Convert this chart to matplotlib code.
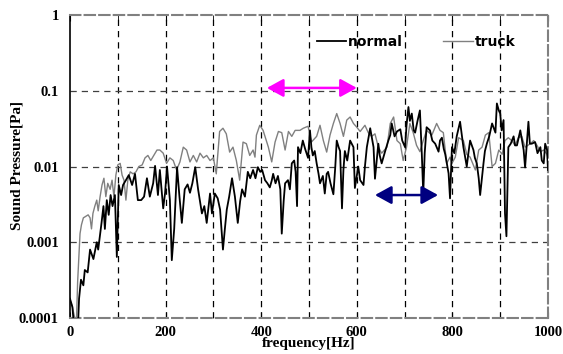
import matplotlib
matplotlib.use("Agg")
import matplotlib.pyplot as plt
from matplotlib.ticker import FixedLocator, NullLocator, FixedFormatter

# normal (black)
f_normal = [0, 5, 10, 16, 19, 23, 28, 31, 37, 42, 49, 56, 59, 66, 70, 73, 77, 81, 85, 89, 94,
            98, 102, 107, 111, 117, 123, 130, 136, 142, 149, 155, 161, 167, 174, 178, 184, 188,
            195, 199, 203, 209, 213, 218, 224, 229, 234, 240, 246, 251, 256, 262, 268, 276, 281,
            286, 293, 297, 303, 309, 314, 320, 324, 328, 333, 339, 345, 351, 356, 360, 366, 372,
            377, 383, 388, 393, 398, 402, 408, 413, 418, 422, 425, 430, 435, 440, 443, 447, 450,
            456, 460, 464, 469, 472, 475, 477, 482, 487, 492, 498, 502, 505, 508, 512, 516, 520,
            523, 529, 533, 537, 540, 545, 551, 555, 558, 562, 565, 569, 572, 575, 580, 586, 593,
            596, 603, 607, 614, 617, 621, 628, 635, 638, 645, 648, 652, 659, 666, 670, 673, 679,
            684, 691, 695, 701, 704, 708, 711, 715, 719, 722, 727, 732, 736, 739, 742, 746, 753,
            758, 764, 771, 774, 778, 782, 785, 792, 795, 799, 804, 809, 816, 823, 826, 830, 834,
            837, 844, 847, 851, 855, 858, 865, 868, 872, 877, 883, 890, 893, 897, 900, 903, 907,
            910, 913, 917, 922, 928, 931, 935, 942, 949, 952, 959, 962, 966, 973, 978, 984, 987,
            991, 994, 998, 1000]
p_normal = [0.00018, 0.00014, 0.00006, 0.00006, 0.00018, 0.00032, 0.00027, 0.00043, 0.0004,
            0.0008, 0.0006, 0.001, 0.0008, 0.0018, 0.003, 0.0015, 0.0036, 0.0023, 0.0042, 0.003,
            0.0042, 0.00064, 0.0057, 0.0042, 0.0057, 0.0066, 0.0077, 0.0057, 0.008, 0.0036,
            0.0036, 0.004, 0.007, 0.004, 0.006, 0.0102, 0.0042, 0.009, 0.0028, 0.0045, 0.01,
            0.0036, 0.00058, 0.0015, 0.0098, 0.004, 0.0018, 0.005, 0.0058, 0.0045, 0.006, 0.0098,
            0.005, 0.0024, 0.003, 0.0018, 0.0044, 0.0024, 0.0044, 0.0038, 0.0027, 0.0008, 0.0015,
            0.0027, 0.004, 0.007, 0.004, 0.0018, 0.0035, 0.005, 0.004, 0.0085, 0.007, 0.009,
            0.007, 0.0098, 0.0085, 0.009, 0.0066, 0.006, 0.0053, 0.0065, 0.008, 0.006, 0.0075,
            0.005, 0.0013, 0.0035, 0.006, 0.0066, 0.005, 0.011, 0.012, 0.0085, 0.003, 0.018,
            0.015, 0.022, 0.017, 0.013, 0.03, 0.018, 0.014, 0.016, 0.011, 0.008, 0.006, 0.0075,
            0.0044, 0.008, 0.0085, 0.006, 0.0043, 0.01, 0.022, 0.018, 0.016, 0.0028, 0.009,
            0.016, 0.012, 0.022, 0.018, 0.0052, 0.01, 0.0066, 0.0057, 0.01, 0.018, 0.032, 0.018,
            0.0069, 0.02, 0.014, 0.011, 0.0157, 0.022, 0.026, 0.037, 0.025, 0.029, 0.031, 0.022,
            0.018, 0.035, 0.061, 0.04, 0.05, 0.03, 0.028, 0.04, 0.055, 0.0145, 0.0044, 0.015,
            0.033, 0.03, 0.022, 0.02, 0.0157, 0.022, 0.024, 0.017, 0.0145, 0.0081, 0.0038, 0.018,
            0.015, 0.025, 0.039, 0.018, 0.014, 0.01, 0.016, 0.022, 0.0165, 0.013, 0.011, 0.007,
            0.0042, 0.011, 0.016, 0.02, 0.025, 0.037, 0.028, 0.068, 0.055, 0.05, 0.03, 0.041,
            0.0024, 0.0012, 0.018, 0.02, 0.025, 0.019, 0.019, 0.03, 0.0165, 0.0097, 0.039, 0.02,
            0.02, 0.021, 0.015, 0.018, 0.012, 0.011, 0.02, 0.0165, 0.009]

# truck (gray)
f_truck = [0, 2, 5, 10, 13, 16, 21, 24, 28, 33, 38, 42, 45, 48, 52, 56, 59, 63, 67, 71, 75, 79,
           84, 88, 92, 96, 100, 105, 109, 113, 117, 121, 126, 132, 138, 144, 151, 157, 163, 169,
           176, 182, 188, 195, 202, 209, 216, 223, 230, 237, 244, 251, 258, 265, 272, 279, 286,
           293, 300, 306, 313, 320, 327, 334, 341, 348, 355, 362, 369, 376, 383, 387, 390, 397,
           404, 415, 422, 429, 436, 443, 450, 457, 464, 471, 481, 488, 498, 505, 516, 523, 530,
           537, 544, 551, 558, 565, 572, 579, 586, 593, 600, 607, 617, 624, 631, 638, 645, 652,
           663, 670, 677, 684, 691, 697, 704, 711, 718, 725, 732, 739, 746, 757, 767, 774, 781,
           788, 795, 799, 806, 813, 823, 830, 837, 848, 855, 862, 869, 876, 883, 890, 897, 904,
           910, 917, 924, 931, 938, 945, 952, 963, 970, 977, 984, 991, 998, 1000]
p_truck = [0.00017, 0.00016, 0.00014, 0.0001, 0.00007, 0.0003, 0.0013, 0.0017, 0.0021, 0.0022,
           0.0023, 0.0021, 0.0015, 0.0024, 0.003, 0.0036, 0.0026, 0.004, 0.0057, 0.007, 0.004,
           0.006, 0.005, 0.0066, 0.004, 0.0077, 0.0105, 0.011, 0.0077, 0.0066, 0.0036, 0.0066,
           0.0085, 0.008, 0.0085, 0.01, 0.0105, 0.013, 0.014, 0.012, 0.0142, 0.0165, 0.0165,
           0.015, 0.011, 0.013, 0.012, 0.009, 0.0115, 0.018, 0.0165, 0.0115, 0.014, 0.0115, 0.015,
           0.013, 0.014, 0.012, 0.013, 0.008, 0.029, 0.032, 0.027, 0.0155, 0.018, 0.012, 0.0066,
           0.021, 0.02, 0.014, 0.0165, 0.0133, 0.026, 0.035, 0.03, 0.018, 0.0115, 0.021, 0.029,
           0.028, 0.0165, 0.029, 0.025, 0.03, 0.03, 0.032, 0.034, 0.021, 0.025, 0.035, 0.022,
           0.0155, 0.026, 0.037, 0.05, 0.037, 0.025, 0.041, 0.045, 0.037, 0.033, 0.029, 0.035,
           0.028, 0.025, 0.027, 0.018, 0.015, 0.018, 0.037, 0.045, 0.022, 0.02, 0.012, 0.018,
           0.037, 0.028, 0.019, 0.0157, 0.022, 0.03, 0.026, 0.037, 0.03, 0.028, 0.011, 0.0133,
           0.011, 0.0133, 0.024, 0.022, 0.0145, 0.0133, 0.009, 0.0165, 0.018, 0.026, 0.028, 0.01,
           0.011, 0.0165, 0.0145, 0.022, 0.024, 0.022, 0.019, 0.024, 0.025, 0.018, 0.02, 0.022,
           0.019, 0.0157, 0.0165, 0.0145, 0.013]

# arrows (Hz, Pa)
arrow_pink = [412, 600, 0.109]
arrow_navy = [638, 770, 0.0042]

xticks = [0, 200, 400, 600, 800, 1000]
yticks = [0.0001, 0.001, 0.01, 0.1, 1]
ylabels = ["0.0001", "0.001", "0.01", "0.1", "1"]

plt.rcParams['font.family'] = ['Liberation Serif', 'DejaVu Serif']
plt.rcParams['font.weight'] = 'bold'

fig = plt.figure(figsize=(5.63, 3.54), dpi=100)
ax = fig.add_axes([0.1243, 0.1017, 0.8491, 0.8559])

ax.plot(f_normal, p_normal, color='black', lw=1.3, label='normal', zorder=3)
ax.plot(f_truck, p_truck, color='#808080', lw=1.0, label='truck', zorder=2)

ax.set_yscale('log')
ax.set_xlim(0, 1000)
ax.set_ylim(0.0001, 1)

ax.xaxis.set_major_locator(FixedLocator(xticks))
ax.xaxis.set_minor_locator(FixedLocator(range(100, 1000, 200)))
ax.yaxis.set_major_locator(FixedLocator(yticks))
ax.yaxis.set_major_formatter(FixedFormatter(ylabels))
ax.yaxis.set_minor_locator(NullLocator())
ax.tick_params(axis='x', which='both', direction='in', length=4, top=True, labelsize=10.5, pad=6)
ax.tick_params(axis='y', which='both', direction='in', length=0, labelsize=10.5, pad=8)
for t in ax.get_xticklabels() + ax.get_yticklabels():
    t.set_fontweight('bold')

# dashed grid
for x in range(100, 1000, 100):
    ax.axvline(x, color='black', lw=0.9, ls=(0, (5, 4)), zorder=1)
for y in [0.001, 0.01, 0.1]:
    ax.axhline(y, color='#404040', lw=0.9, ls=(0, (5, 4)), zorder=1)

for side in ['top', 'right', 'bottom']:
    ax.spines[side].set_color('#808080')
    ax.spines[side].set_linestyle((0, (5, 2)))
    ax.spines[side].set_linewidth(1.5)
ax.spines['left'].set_color('black')
ax.spines['left'].set_linewidth(1.2)

fig.text(309 / 563, 1 - 344 / 354, 'frequency[Hz]', fontsize=11, fontweight='bold',
         ha='center', va='center')
fig.text(17 / 563, 1 - 165 / 354, 'Sound Pressure[Pa]', fontsize=11, fontweight='bold',
         ha='center', va='center', rotation=90)

# arrows
style = '<|-|>,head_length=1.0,head_width=0.55'
ax.annotate('', xy=(arrow_pink[0], arrow_pink[2]), xytext=(arrow_pink[1], arrow_pink[2]),
            arrowprops=dict(arrowstyle=style, color='#FF00FF', lw=1.8, shrinkA=0, shrinkB=0),
            zorder=5)
ax.annotate('', xy=(arrow_navy[0], arrow_navy[2]), xytext=(arrow_navy[1], arrow_navy[2]),
            arrowprops=dict(arrowstyle=style, color='#000080', lw=1.8, shrinkA=0, shrinkB=0),
            zorder=5)

leg = ax.legend(loc='upper left', bbox_to_anchor=((317 - 70) / 478, 0.935), ncol=2,
                frameon=False, borderpad=0, borderaxespad=0,
                handlelength=2.1, handletextpad=0.15, columnspacing=2.9,
                prop={'family': 'DejaVu Sans', 'weight': 'bold', 'size': 10})

fig.savefig('out.png', dpi=100)
